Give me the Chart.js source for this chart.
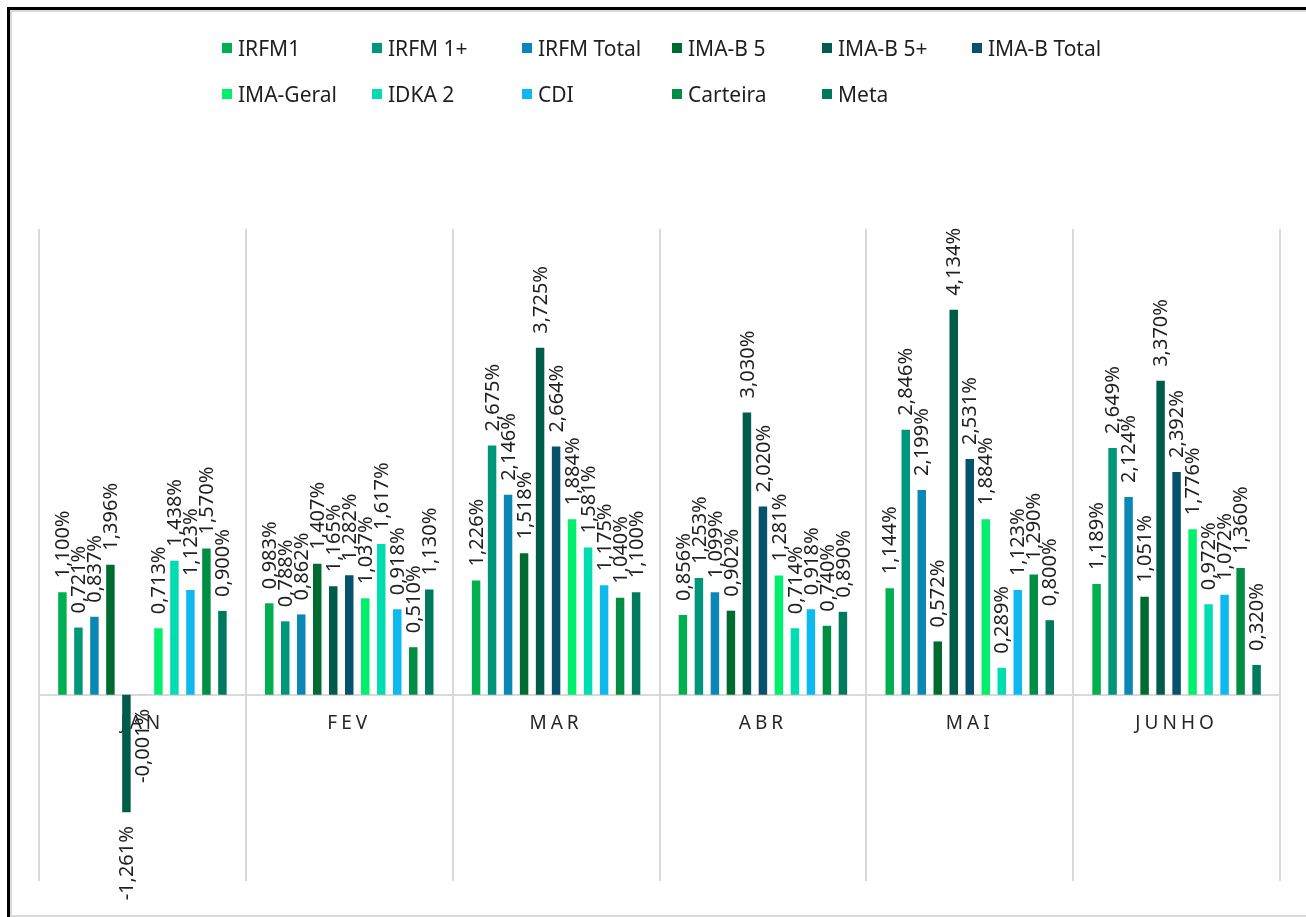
<!DOCTYPE html>
<html lang="pt-BR">
<head>
<meta charset="utf-8">
<title>Rentabilidade mensal por índice</title>
<script src="https://cdn.jsdelivr.net/npm/chart.js@4/dist/chart.umd.min.js"></script>
<style>
  html, body { margin: 0; padding: 0; background: #fff; }
  body { width: 1306px; height: 917px; position: relative; overflow: hidden; font-family: "Noto Sans", sans-serif; }
  .frame { position: absolute; left: 7px; top: 7px; width: 1320px; height: 907px;
           border-left: 3px solid #000; border-top: 3px solid #000; }
  .frame-inner { position: absolute; left: 0; top: 0; right: 0; bottom: 0;
                 border-left: 2px solid #d9d9d9; border-top: 2px solid #d9d9d9; border-bottom: 2px solid #d9d9d9; }
  #wrap { position: absolute; left: 0; top: 0; width: 1306px; height: 917px; }
  .legend { position: absolute; left: 0; top: 0; }
  .legend-item { position: absolute; display: flex; align-items: center; white-space: nowrap;
                 font-size: 21px; color: #1f1f1f; height: 26px; }
  .legend-item span.box { display: inline-block; width: 10px; height: 10px; margin-right: 6px; }
</style>
</head>
<body>
<div class="frame"><div class="frame-inner"></div></div>
<div id="wrap"><canvas id="chart" width="1306" height="917"></canvas></div>
<div class="legend" id="legend"></div>
<script>
// Months on the category axis
const months = ['JAN', 'FEV', 'MAR', 'ABR', 'MAI', 'JUNHO'];

// Series names and colours
const seriesNames = ['IRFM1', 'IRFM 1+', 'IRFM Total', 'IMA-B 5', 'IMA-B 5+', 'IMA-B Total',
                     'IMA-Geral', 'IDKA 2', 'CDI', 'Carteira', 'Meta'];
const seriesColors = ['#00b050', '#00967a', '#0a87b4', '#006b30', '#005c48', '#06526c',
                      '#00f06e', '#00ddb0', '#0db9ee', '#008e45', '#007a5f'];

// Monthly returns (%) per series, JAN..JUNHO
const irfm1      = [1.100, 0.983, 1.226, 0.856, 1.144, 1.189];
const irfm1Plus  = [0.721, 0.788, 2.675, 1.253, 2.846, 2.649];
const irfmTotal  = [0.837, 0.862, 2.146, 1.099, 2.199, 2.124];
const imab5      = [1.396, 1.407, 1.518, 0.902, 0.572, 1.051];
const imab5Plus  = [-1.261, 1.165, 3.725, 3.030, 4.134, 3.370];
const imabTotal  = [-0.001, 1.282, 2.664, 2.020, 2.531, 2.392];
const imaGeral   = [0.713, 1.037, 1.884, 1.281, 1.884, 1.776];
const idka2      = [1.438, 1.617, 1.581, 0.714, 0.289, 0.972];
const cdi        = [1.123, 0.918, 1.175, 0.918, 1.123, 1.072];
const carteira   = [1.570, 0.510, 1.040, 0.740, 1.290, 1.360];
const meta       = [0.900, 1.130, 1.100, 0.890, 0.800, 0.320];

const seriesValues = [irfm1, irfm1Plus, irfmTotal, imab5, imab5Plus, imabTotal,
                      imaGeral, idka2, cdi, carteira, meta];

const FONT = '"Noto Sans", sans-serif';

function fmtPct(v) {
  return v.toFixed(3).replace('.', ',') + '%';
}

// Legend laid out on a fixed grid of columns
const legendEl = document.getElementById('legend');
seriesNames.forEach((name, i) => {
  const col = i < 6 ? i : i - 6;
  const row = i < 6 ? 0 : 1;
  const item = document.createElement('div');
  item.className = 'legend-item';
  item.style.left = (222 + col * 150) + 'px';
  item.style.top = (35 + row * 46) + 'px';
  const box = document.createElement('span');
  box.className = 'box';
  box.style.background = seriesColors[i];
  item.appendChild(box);
  item.appendChild(document.createTextNode(name));
  legendEl.appendChild(item);
});

// Rotated value labels at the end of each bar
const valueLabels = {
  id: 'valueLabels',
  afterDatasetsDraw(chart) {
    const ctx = chart.ctx;
    const gap = 14;
    ctx.save();
    ctx.font = '20px ' + FONT;
    ctx.fillStyle = '#1f1f1f';
    ctx.textBaseline = 'middle';
    chart.data.datasets.forEach((ds, i) => {
      const meta = chart.getDatasetMeta(i);
      meta.data.forEach((bar, j) => {
        const v = ds.data[j];
        ctx.save();
        if (v >= 0) {
          ctx.translate(bar.x, bar.y - gap);
          ctx.textAlign = 'left';
        } else {
          ctx.translate(bar.x, bar.y + gap);
          ctx.textAlign = 'right';
        }
        ctx.rotate(-Math.PI / 2);
        ctx.fillText(fmtPct(v), 0, 1);
        ctx.restore();
      });
    });
    ctx.restore();
  }
};

// Spaced-out lettering for the month names on the category axis
const spacedAxisLabels = {
  id: 'spacedAxisLabels',
  beforeDraw(chart) { chart.ctx.letterSpacing = '4px'; },
  beforeDatasetsDraw(chart) { chart.ctx.letterSpacing = '0px'; }
};

new Chart(document.getElementById('chart'), {
  type: 'bar',
  data: {
    labels: months,
    datasets: seriesNames.map((name, i) => ({
      label: name,
      data: seriesValues[i],
      backgroundColor: seriesColors[i],
      borderWidth: 0,
      categoryPercentage: 0.851,
      barPercentage: 0.53
    }))
  },
  options: {
    responsive: false,
    animation: false,
    devicePixelRatio: 1,
    layout: { padding: { left: 39, right: 26, top: 229, bottom: 36 } },
    plugins: {
      legend: { display: false },
      tooltip: { enabled: false }
    },
    scales: {
      x: {
        type: 'category',
        position: { y: 0 },
        offset: true,
        grid: { offset: true, color: '#d9d9d9', lineWidth: 2, drawTicks: false },
        border: { color: '#d9d9d9', width: 2 },
        ticks: { color: '#262626', padding: 17, font: { family: FONT, size: 19 } }
      },
      y: {
        display: false,
        min: -2,
        max: 5
      }
    }
  },
  plugins: [valueLabels, spacedAxisLabels]
});
</script>
</body>
</html>
